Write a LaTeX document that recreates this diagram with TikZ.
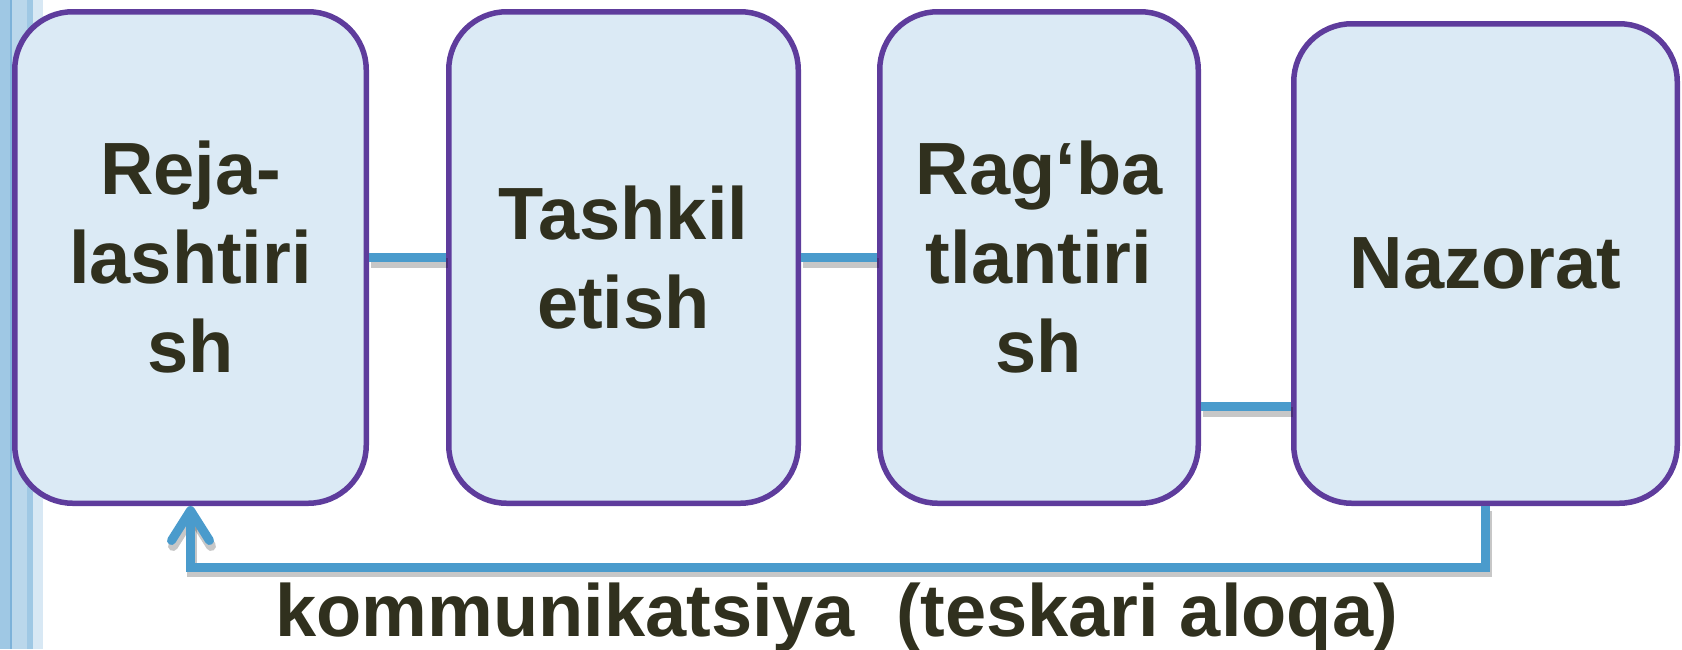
\documentclass[tikz,border=0pt]{standalone}
\usepackage{fontspec}
\setmainfont{Liberation Sans}
\usepackage{xcolor}
\usepackage{tikz}
\usetikzlibrary{arrows.meta}

\definecolor{boxfill}{HTML}{DBEAF5}
\definecolor{boxline}{HTML}{5E3C9C}
\definecolor{linkblue}{HTML}{4A9BCC}
\definecolor{textdark}{HTML}{30301E}
\definecolor{stripeA}{HTML}{9FC8E4}
\definecolor{stripeB}{HTML}{7DB2D9}
\definecolor{stripeC}{HTML}{BAD7EB}
\definecolor{stripeD}{HTML}{D8E8F4}

\begin{document}
\begin{tikzpicture}[x=1pt,y=-1pt,
    stage/.style={draw=boxline,line width=5.5pt,fill=boxfill,rounded corners=58pt,
        minimum height=491.5pt,inner sep=0pt,align=center,text=textdark,
        font=\fontsize{74}{89}\selectfont\bfseries},
    link/.style={draw=linkblue,line width=9pt,
        preaction={draw=black,opacity=0.22,line width=10pt,
            transform canvas={xshift=1.5pt,yshift=-5pt}}}]
    \useasboundingbox (0,0) rectangle (1682,649);
    % stripes on the left edge
    \fill[stripeA] (0,0) rectangle (10,649);
    \fill[stripeB] (10,0) rectangle (12,649);
    \fill[stripeC] (12,0) rectangle (27,649);
    \fill[stripeA] (27,0) rectangle (33,649);
    \fill[stripeD] (33,0) rectangle (43,649);

    \node[stage,minimum width=351.5pt] (plan) at (190.5,257.5) {Reja-\\lashtiri\\sh};
    \node[stage,minimum width=349.5pt] (org) at (623.5,257.5) {Tashkil\\etish};
    \node[stage,minimum width=318.5pt] (motiv) at (1039,257.5) {Rag‘ba\\tlantiri\\sh};
    \node[stage,minimum width=383.5pt,minimum height=479.5pt] (ctrl) at (1485.5,263.5) {Nazorat};

    \draw[link] (plan.east) -- (org.west);
    \draw[link] (org.east) -- (motiv.west);
    \draw[link] ([yshift=-149pt]motiv.east) -- ([yshift=-149pt]motiv.east -| ctrl.west);
    % feedback
    \draw[link,-{Straight Barb[length=30pt,width=38pt,round]}]
        (ctrl.south) -- ++(0,61) -| (plan.south);
    \node[anchor=base west,inner sep=0pt,text=textdark,
        font=\fontsize{74}{89}\selectfont\bfseries] (fbtext) at (275,636)
        {kommunikatsiya~~(teskari aloqa)};
\end{tikzpicture}
\end{document}
